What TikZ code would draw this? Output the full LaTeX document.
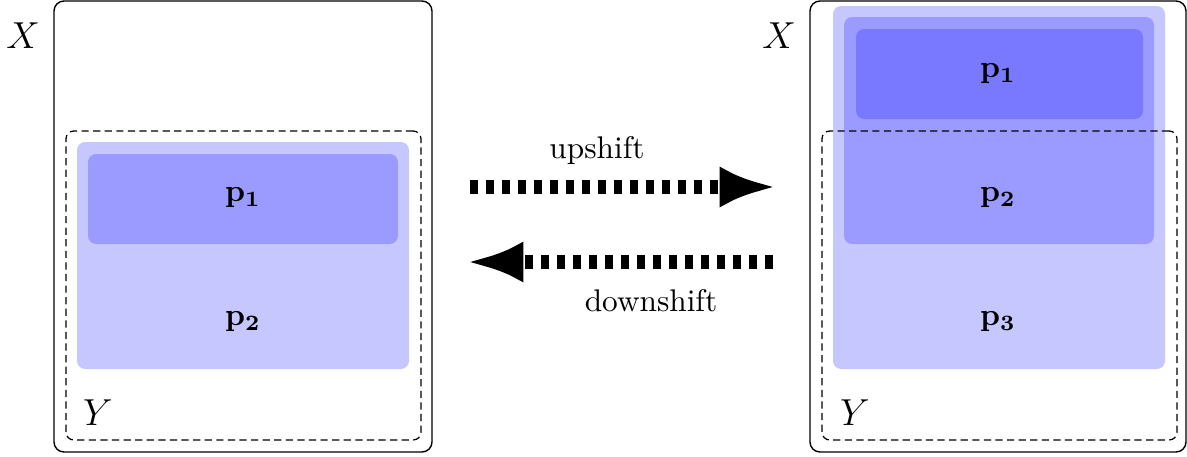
\documentclass[tikz,border=0pt]{standalone}
\usetikzlibrary{arrows.meta,fit}
\begin{document}
\begin{tikzpicture}[x=0.3193pt,y=-0.3193pt,
  frame/.style={draw,rounded corners=3.2pt,inner sep=0pt,line width=0.45pt},
  ybox/.style={draw,rounded corners=2.5pt,inner sep=0pt,dash pattern=on 2.3pt off 1.4pt,line width=0.4pt},
  region/.style={fill=blue,fill opacity=0.22,rounded corners=2.6pt,inner sep=0pt},
  shiftarrow/.style={line width=4.5pt,dash pattern=on 2.6pt off 2.5pt,-{Latex[length=18pt,width=13.2pt]}},
  setlbl/.style={font=\large},
  plbl/.style={inner sep=0pt}
]
\useasboundingbox (0,0) rectangle (1187,456);
% left
\node[frame,fit={(54,1)(432,452)}] (X1) {};
\node[region,fit={(77,142)(409,369)}] (R1) {};
\node[region,fit={(88,154)(398,244)}] (P1) {};
\node[ybox,fit={(66,131)(421,440)}] (Y1) {};
\node[setlbl] (lx1) at (23,36) {$X$};
\node[setlbl] (ly1) at (98,413) {$Y$};
\node[plbl] (lp11) at (243,198) {$\mathbf{p_1}$};
\node[plbl] (lp12) at (243,322) {$\mathbf{p_2}$};
% right
\node[frame,fit={(810,1)(1186,452)}] (X2) {};
\node[region,fit={(833,6)(1165,369)}] (RA) {};
\node[region,fit={(844,17)(1154,244)}] (RB) {};
\node[region,fit={(856,29)(1143,119)}] (RC) {};
\node[ybox,fit={(822,131)(1177,440)}] (Y2) {};
\node[setlbl] (lx2) at (779,36) {$X$};
\node[setlbl] (ly2) at (855,413) {$Y$};
\node[plbl] (lp21) at (998,74) {$\mathbf{p_1}$};
\node[plbl] (lp22) at (998,198) {$\mathbf{p_2}$};
\node[plbl] (lp23) at (998,322) {$\mathbf{p_3}$};
% arrows
\coordinate (us) at (470,187);
\coordinate (ue) at (776,187);
\coordinate (ds) at (773,262);
\coordinate (de) at (467,262);
\draw[shiftarrow] (us) -- (ue);
\draw[shiftarrow] (ds) -- (de);
\node (up) at (597,150) {upshift};
\node (down) at (651,301) {downshift};
\end{tikzpicture}
\end{document}
